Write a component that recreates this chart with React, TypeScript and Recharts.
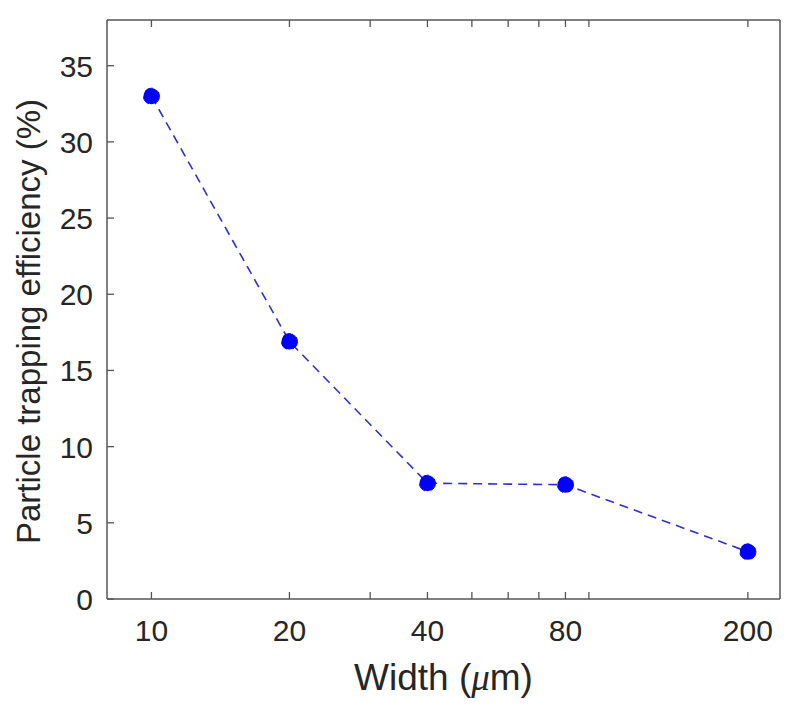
import { Line, LineChart, XAxis, YAxis, Label } from "recharts";

const widths = [10, 20, 40, 80, 200];
const efficiency = [33, 16.9, 7.6, 7.5, 3.1];
const majorTicks = [10, 20, 40, 80, 200];
const minorTicks = [30, 50, 60, 70, 90];
const yTicks = [0, 5, 10, 15, 20, 25, 30, 35];

const data = widths.map((w, i) => ({ width: w, eff: efficiency[i] }));
const xTicks = [...majorTicks, ...minorTicks].sort((a, b) => a - b);

const axisColor = "#555";
const textColor = "#262626";
const font = "'Liberation Sans', Arial, sans-serif";

function BottomTick(props: any) {
  const { x, y, payload } = props;
  const axisY = y - 12;
  const isMajor = majorTicks.includes(payload.value);
  return (
    <g>
      <line x1={x} x2={x} y1={axisY} y2={axisY - 7} stroke={axisColor} strokeWidth={1.3} />
      {isMajor && (
        <text x={x} y={axisY + 42} textAnchor="middle" fill={textColor} fontSize={30} fontFamily={font}>
          {payload.value}
        </text>
      )}
    </g>
  );
}

function TopTick(props: any) {
  const { x, y } = props;
  const axisY = y + 12;
  return <line x1={x} x2={x} y1={axisY} y2={axisY + 7} stroke={axisColor} strokeWidth={1.3} />;
}

function LeftTick(props: any) {
  const { x, y, payload } = props;
  const axisX = x + 12;
  return (
    <g>
      <line x1={axisX} x2={axisX + 7} y1={y} y2={y} stroke={axisColor} strokeWidth={1.3} />
      <text x={axisX - 14} y={y + 11} textAnchor="end" fill={textColor} fontSize={30} fontFamily={font}>
        {payload.value}
      </text>
    </g>
  );
}

function RightTick(props: any) {
  const { x, y } = props;
  const axisX = x - 12;
  return <line x1={axisX} x2={axisX - 7} y1={y} y2={y} stroke={axisColor} strokeWidth={1.3} />;
}

function XTitle(props: any) {
  const { viewBox } = props;
  const cx = viewBox.x + viewBox.width / 2;
  return (
    <text x={cx} y={690} textAnchor="middle" fill={textColor} fontSize={37} fontFamily={font}>
      Width (<tspan fontFamily="'Liberation Serif', 'DejaVu Serif', serif" fontStyle="italic">μ</tspan>m)
    </text>
  );
}

function YTitle(props: any) {
  const { viewBox } = props;
  const cy = viewBox.y + viewBox.height / 2 + 12;
  return (
    <text
      x={40}
      y={cy}
      transform={`rotate(-90 40 ${cy})`}
      textAnchor="middle"
      fill={textColor}
      fontSize={33}
      fontFamily={font}
    >
      Particle trapping efficiency (%)
    </text>
  );
}

export default function App() {
  return (
    <div style={{ position: "absolute", left: 0, top: 0, background: "#fff" }}>
      <LineChart
        width={800}
        height={714}
        data={data}
        margin={{ top: 10, right: 10, bottom: 55, left: 47 }}
      >
        <XAxis
          xAxisId="bottom"
          dataKey="width"
          type="number"
          scale="log"
          domain={[8, 235]}
          allowDataOverflow
          ticks={xTicks}
          interval={0}
          tick={<BottomTick />}
          tickLine={false}
          tickSize={0}
          tickMargin={12}
          height={60}
          axisLine={{ stroke: axisColor, strokeWidth: 1.5 }}
        >
          <Label content={<XTitle />} position="insideBottom" />
        </XAxis>
        <XAxis
          xAxisId="top"
          orientation="top"
          dataKey="width"
          type="number"
          scale="log"
          domain={[8, 235]}
          allowDataOverflow
          ticks={xTicks}
          interval={0}
          tick={<TopTick />}
          tickLine={false}
          tickSize={0}
          tickMargin={12}
          height={10}
          axisLine={{ stroke: axisColor, strokeWidth: 1.5 }}
        />
        <YAxis
          yAxisId="left"
          type="number"
          domain={[0, 38]}
          ticks={yTicks}
          interval={0}
          tick={<LeftTick />}
          tickLine={false}
          tickSize={0}
          tickMargin={12}
          width={60}
          axisLine={{ stroke: axisColor, strokeWidth: 1.5 }}
        >
          <Label content={<YTitle />} position="insideLeft" />
        </YAxis>
        <YAxis
          yAxisId="right"
          orientation="right"
          type="number"
          domain={[0, 38]}
          ticks={yTicks}
          interval={0}
          tick={<RightTick />}
          tickLine={false}
          tickSize={0}
          tickMargin={12}
          width={10}
          axisLine={{ stroke: axisColor, strokeWidth: 1.5 }}
        />
        <Line
          xAxisId="bottom"
          yAxisId="left"
          dataKey="eff"
          type="linear"
          stroke="#3030d0"
          strokeWidth={1.6}
          strokeDasharray="9 6"
          dot={{ r: 8, fill: "#0000ff", stroke: "#0000ff", strokeWidth: 1 }}
          isAnimationActive={false}
        />
      </LineChart>
    </div>
  );
}
